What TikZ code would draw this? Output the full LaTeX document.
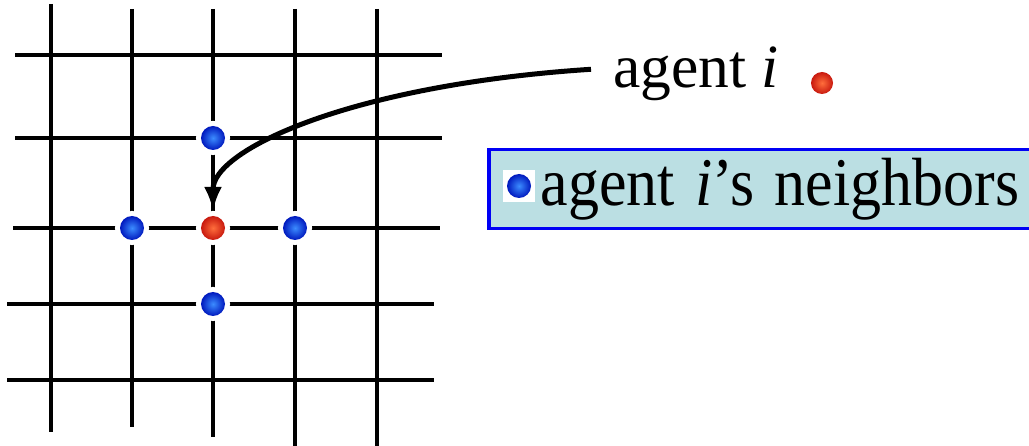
\documentclass[tikz,border=0pt]{standalone}
\usepackage{fontspec}
\setmainfont{Liberation Serif}
\usetikzlibrary{arrows.meta}
\definecolor{blueinner}{RGB}{60,140,255}
\definecolor{blueouter}{RGB}{0,25,190}
\definecolor{redinner}{RGB}{255,110,60}
\definecolor{redouter}{RGB}{200,25,15}
\definecolor{boxfill}{RGB}{187,223,227}
\definecolor{boxline}{RGB}{0,0,245}
\begin{document}
\begin{tikzpicture}[x=1pt,y=-1pt,
  gridline/.style={line width=4pt},
  agentball/.style={circle, inner sep=0pt, minimum size=24pt, outer sep=5pt},
  blueball/.style={agentball, shading=radial, inner color=blueinner, outer color=blueouter},
  redball/.style={agentball, shading=radial, inner color=redinner, outer color=redouter},
  halo/.style={preaction={draw=white, line width=10pt}},
  bigtext/.style={font=\fontsize{61.5}{70}\selectfont},
  legendbox/.style={draw=boxline, line width=3.5pt, fill=boxfill, anchor=north west,
     minimum height=79pt, text width=520pt, inner xsep=52pt, inner ysep=0pt, align=left,
     font=\fontsize{62}{70}\selectfont},
  pointer/.style={line width=5pt, -{Latex[length=24pt,width=18pt]}}]
\useasboundingbox (0,0) rectangle (1029,446);
\clip (0,0) rectangle (1029,446);
% grid
\draw[gridline] (51,4) -- (51,432);
\draw[gridline] (132,9) -- (132,427);
\draw[gridline] (213,9) -- (213,437);
\draw[gridline] (295,9) -- (295,446);
\draw[gridline] (377,9) -- (377,446);
\draw[gridline] (15,55) -- (442,55);
\draw[gridline] (15,138) -- (442,138);
\draw[gridline] (13,228) -- (440,228);
\draw[gridline] (7,304) -- (434,304);
\draw[gridline] (7,380) -- (434,380);
% agents
\node[redball, halo] (me) at (213,228) {};
\node[blueball, halo] (up) at (213,138) {};
\node[blueball, halo] (down) at (213,304) {};
\node[blueball, halo] (left) at (132,228) {};
\node[blueball, halo] (right) at (295,228) {};
% label agent i
\node[bigtext, anchor=base west, inner xsep=22pt, inner ysep=0pt] (lbl) at (591,88) {agent \textit{i}};
\node[redball, minimum size=22pt] (legred) at (822,83) {};
\draw[pointer] ([yshift=5pt]lbl.west) .. controls (350,85) and (213,150) .. (me.north);
% legend box
\node[legendbox] (nbox) at (487,148) {\mbox{\scalebox{1}[1.1]{agent \textit{i}’s neighbors}}};
\node[fill=white, minimum size=32pt, inner sep=0pt] (icon) at (519,186) {};
\node[blueball] (iconball) at (icon.center) {};
\end{tikzpicture}
\end{document}
